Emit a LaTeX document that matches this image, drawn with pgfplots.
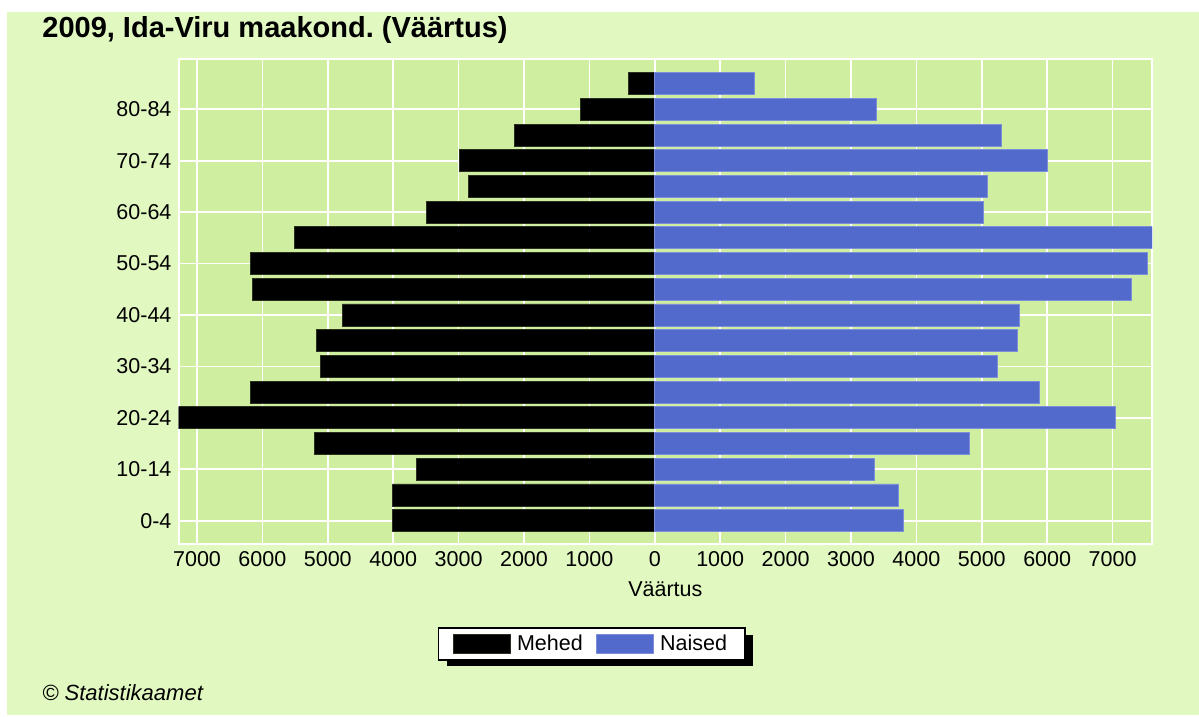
\documentclass[border=0pt]{standalone}
\usepackage{fontspec}
\setmainfont{Liberation Sans}
\usepackage{pgfplots}
\pgfplotsset{compat=1.18}

\definecolor{outerbg}{RGB}{225,248,193}
\definecolor{plotbg}{RGB}{208,238,160}
\definecolor{ublue}{RGB}{82,106,204}

% vanusegrupid 0-4 ... 85+ (indeks 0..17), mehed negatiivsena
\pgfplotstableread{
idx mehed
0  -4010
1  -4010
2  -3640
3  -5205
4  -7283
5  -6185
6  -5115
7  -5175
8  -4780
9  -6155
10 -6185
11 -5510
12 -3490
13 -2855
14 -2985
15 -2145
16 -1140
17 -400
}\mehed
\pgfplotstableread{
idx naised
0  3800
1  3730
2  3365
3  4810
4  7045
5  5880
6  5235
7  5540
8  5570
9  7290
10 7535
11 7606
12 5025
13 5080
14 6005
15 5295
16 3395
17 1525
}\naised

\begin{document}
\frenchspacing
\begin{tikzpicture}
\fill[white] (0,0) rectangle (599.5pt,358.5pt);
\fill[outerbg] (3.5pt,1pt) rectangle (599.5pt,352.5pt);

\node[anchor=west,inner sep=0pt,font=\bfseries\fontsize{14.5}{17}\selectfont] at (21pt,343.5pt) {2009, Ida-Viru maakond. (Väärtus)};
\node[anchor=west,inner sep=0pt,font=\itshape\fontsize{11}{13}\selectfont] at (21pt,12.25pt) {© Statistikaamet};

% legendi vari
\fill[black] (223.5pt,25.5pt) rectangle (376.5pt,41pt);

\begin{axis}[
  at={(89.25pt,86.5pt)}, anchor=south west,
  scale only axis, width=486.85pt, height=242.5pt,
  xbar, bar shift=0pt, bar width=11pt,
  xmin=-7283, xmax=7606, ymin=-0.906, ymax=17.956,
  axis background/.style={fill=plotbg},
  axis line style={white, line width=1pt},
  major tick length=0pt,
  xmajorgrids, ymajorgrids,
  grid style={white, line width=0.8pt},
  scaled x ticks=false,
  xtick={-7000,-6000,...,7000},
  xticklabels={7000,6000,5000,4000,3000,2000,1000,0,1000,2000,3000,4000,5000,6000,7000},
  ytick={0,2,...,16},
  yticklabels={0-4,10-14,20-24,30-34,40-44,50-54,60-64,70-74,80-84},
  tick label style={font=\fontsize{10.75}{12}\selectfont},
  /pgf/number format/assume math mode=true,
  xlabel={Väärtus},
  xlabel style={font=\fontsize{10.75}{12}\selectfont, yshift=-1pt},
  legend columns=2,
  legend style={
    at={(0.4245,-0.172)}, anchor=north,
    draw=black, fill=white, line width=0.7pt,
    font=\fontsize{10.75}{12}\selectfont,
    inner xsep=7pt, inner ysep=1.3pt,
    nodes={inner xsep=2pt, inner ysep=2pt},
    /tikz/every odd column/.append style={column sep=1pt},
    /tikz/every even column/.append style={column sep=4.5pt},
  },
  legend image code/.code={\fill[#1] (0pt,-4.6pt) rectangle (28.8pt,4.6pt);},
]
\addplot[fill=black, draw=black!80!plotbg, line width=0.4pt] table[x=mehed, y=idx] {\mehed};
\addlegendentry{Mehed}
\addplot[fill=ublue, draw=ublue!75!white, line width=0.4pt] table[x=naised, y=idx] {\naised};
\addlegendentry{Naised}
\end{axis}

\pgfresetboundingbox
\useasboundingbox (0,0) rectangle (599.5pt,358.5pt);
\end{tikzpicture}
\end{document}
